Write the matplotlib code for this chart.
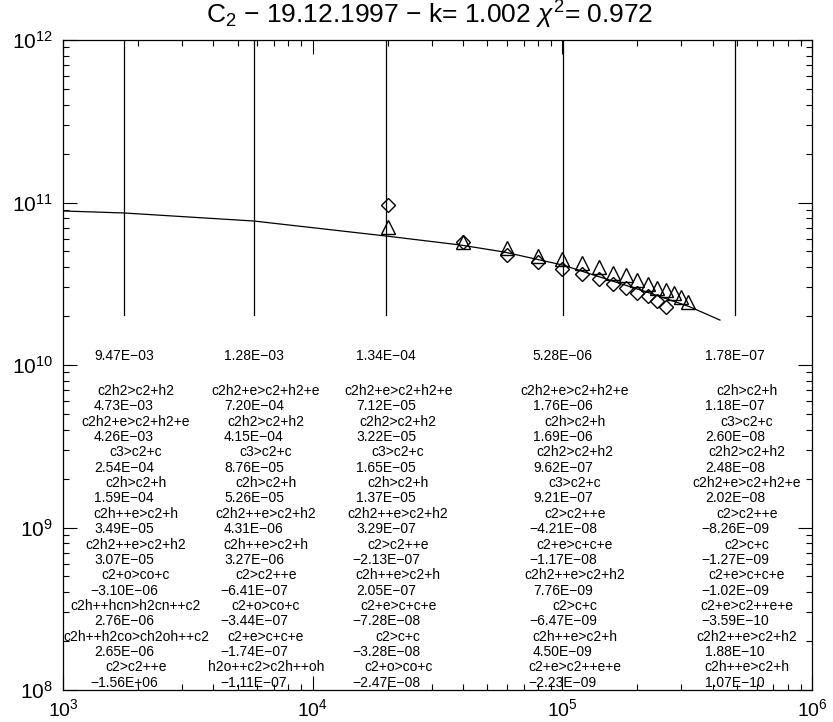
import numpy as np
import matplotlib
matplotlib.use("Agg")
import matplotlib.pyplot as plt
import matplotlib.transforms as mtransforms
from matplotlib.ticker import LogLocator, NullFormatter

plt.rcParams["font.family"] = ["Liberation Sans", "DejaVu Sans"]
plt.rcParams["mathtext.fontset"] = "custom"
plt.rcParams["mathtext.rm"] = "Liberation Sans"
plt.rcParams["mathtext.it"] = "Liberation Sans:italic"

# observed column densities (cm^-2) vs projected distance (km)
rho_obs = np.array([2e4, 4e4, 6e4, 8e4, 1.0e5, 1.2e5, 1.4e5, 1.6e5,
                    1.8e5, 2.0e5, 2.2e5, 2.4e5, 2.6e5, 2.8e5, 3.0e5, 3.2e5])
n_tri = np.array([7.07e10, 5.71e10, 5.25e10, 4.69e10, 4.49e10, 4.24e10,
                  4.01e10, 3.68e10, 3.58e10, 3.34e10, 3.15e10, 2.98e10,
                  2.89e10, 2.77e10, 2.62e10, 2.44e10])
n_dia = np.array([9.65e10, 5.71e10, 4.75e10, 4.30e10, 3.90e10, 3.63e10,
                  3.38e10, 3.15e10, 2.98e10, 2.77e10, 2.66e10, 2.48e10,
                  2.28e10])

# model profile
rho_mod = np.array([1.0e3, 1.755e3, 5.82e3, 1.966e4, 3.89e4, 5.84e4,
                    1.005e5, 1.415e5, 2.243e5, 3.243e5, 4.277e5])
n_mod = np.array([8.87e10, 8.62e10, 7.69e10, 6.22e10, 5.48e10, 4.96e10,
                  4.12e10, 3.48e10, 2.77e10, 2.28e10, 1.89e10])

# distances where the production/destruction budget is listed
rho_cols = [1.755e3, 5.82e3, 1.97e4, 1.005e5, 4.91e5]
marker_top = 2.03e10
totals = [9.47e-03, 1.28e-03, 1.34e-04, 5.28e-06, 1.78e-07]

reac1 = ["c2h2>c2+h2", "c2h2+e>c2+h2+e", "c3>c2+c", "c2h>c2+h", "c2h++e>c2+h",
         "c2h2++e>c2+h2", "c2+o>co+c", "c2h++hcn>h2cn++c2",
         "c2h++h2co>ch2oh++c2", "c2>c2++e"]
rate1 = [4.73e-03, 4.26e-03, 2.54e-04, 1.59e-04, 3.49e-05, 3.07e-05,
         -3.10e-06, 2.76e-06, 2.65e-06, -1.56e+06]
reac2 = ["c2h2+e>c2+h2+e", "c2h2>c2+h2", "c3>c2+c", "c2h>c2+h", "c2h2++e>c2+h2",
         "c2h++e>c2+h", "c2>c2++e", "c2+o>co+c", "c2+e>c+c+e", "h2o++c2>c2h++oh"]
rate2 = [7.20e-04, 4.15e-04, 8.76e-05, 5.26e-05, 4.31e-06, 3.27e-06,
         -6.41e-07, -3.44e-07, -1.74e-07, -1.11e-07]
reac3 = ["c2h2+e>c2+h2+e", "c2h2>c2+h2", "c3>c2+c", "c2h>c2+h", "c2h2++e>c2+h2",
         "c2>c2++e", "c2h++e>c2+h", "c2+e>c+c+e", "c2>c+c", "c2+o>co+c"]
rate3 = [7.12e-05, 3.22e-05, 1.65e-05, 1.37e-05, 3.29e-07, -2.13e-07,
         2.05e-07, -7.28e-08, -3.28e-08, -2.47e-08]
reac4 = ["c2h2+e>c2+h2+e", "c2h>c2+h", "c2h2>c2+h2", "c3>c2+c", "c2>c2++e",
         "c2+e>c+c+e", "c2h2++e>c2+h2", "c2>c+c", "c2h++e>c2+h", "c2+e>c2++e+e"]
rate4 = [1.76e-06, 1.69e-06, 9.62e-07, 9.21e-07, -4.21e-08, -1.17e-08,
         7.76e-09, -6.47e-09, 4.50e-09, -2.23e-09]
reac5 = ["c2h>c2+h", "c3>c2+c", "c2h2>c2+h2", "c2h2+e>c2+h2+e", "c2>c2++e",
         "c2>c+c", "c2+e>c+c+e", "c2+e>c2++e+e", "c2h2++e>c2+h2", "c2h++e>c2+h"]
rate5 = [1.18e-07, 2.60e-08, 2.48e-08, 2.02e-08, -8.26e-09, -1.27e-09,
         -1.02e-09, -3.59e-10, 1.88e-10, 1.07e-10]

reactions = [reac1, reac2, reac3, reac4, reac5]
rates = [rate1, rate2, rate3, rate4, rate5]


def fmt(v):
    return "{:.2E}".format(v).replace("-", "\u2212")


fig = plt.figure(figsize=(8.33, 7.22), dpi=100)
ax = fig.add_axes([63 / 833, 32 / 722, 749 / 833, 650 / 722])

ax.plot(rho_mod, n_mod, "k-", lw=0.9)
ax.plot(rho_obs[:len(n_dia)], n_dia, "D", ms=7.5, mfc="none", mec="k", mew=1.0)
ax.plot(rho_obs, n_tri, "^", ms=10, mfc="none", mec="k", mew=1.0)

for r in rho_cols:
    ax.plot([r, r], [marker_top, 1e12], "k-", lw=0.9)

ax.set_xscale("log")
ax.set_yscale("log")
ax.set_xlim(1e3, 1e6)
ax.set_ylim(1e8, 1e12)

for axis in (ax.xaxis, ax.yaxis):
    axis.set_major_locator(LogLocator(base=10, numticks=10))
    axis.set_minor_locator(LogLocator(base=10, subs=np.arange(2, 10), numticks=20))
    axis.set_minor_formatter(NullFormatter())
ax.tick_params(which="both", direction="in", top=True, right=True, width=0.8)
ax.tick_params(which="major", length=10)
ax.tick_params(which="minor", length=4)
ax.tick_params(axis="y", which="major", labelsize=15, pad=7)
ax.tick_params(axis="x", which="major", labelsize=14, pad=6)
for s in ax.spines.values():
    s.set_linewidth(0.9)

# budget table below the profile
base = ax.get_xaxis_transform()
shifted = mtransforms.offset_copy(base, fig=fig, x=8.6, y=0, units="points")
y_head = 0.5138
y0 = 0.46
dy = 0.02362
for r, tot, names, vals in zip(rho_cols, totals, reactions, rates):
    ax.text(r, y_head, fmt(tot), transform=base, ha="center", va="center",
            fontsize=10, clip_on=False)
    for i, (name, val) in enumerate(zip(names, vals)):
        ax.text(r, y0 - 2 * i * dy, name, transform=shifted, ha="center",
                va="center", fontsize=10, clip_on=False)
        ax.text(r, y0 - (2 * i + 1) * dy, fmt(val), transform=base,
                ha="center", va="center", fontsize=10, clip_on=False)

fig.text(430 / 833, 1 - 15 / 722,
         "C$_2$ \u2212 19.12.1997 \u2212 k= 1.002 $\\chi^2$= 0.972",
         ha="center", va="center", fontsize=19)

fig.savefig("out.png", dpi=100, facecolor="white")
